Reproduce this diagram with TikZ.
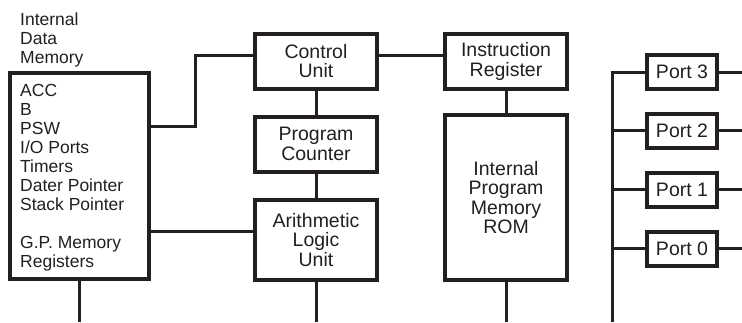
\documentclass[tikz,border=0pt]{standalone}
\usepackage{fontspec}
\setmainfont{Liberation Sans}
\definecolor{ink}{HTML}{231F20}
\begin{document}
\begin{tikzpicture}[x=1pt,y=-1pt,
  blk/.style={draw=ink, line width=4pt, inner sep=0pt, align=center, text=ink,
    font=\fontsize{19.5}{19.5}\selectfont},
  wire/.style={draw=ink, line width=3pt, line join=miter},
  lbl/.style={inner sep=0pt, align=left, anchor=north west, text=ink,
    font=\fontsize{17.5}{19}\selectfont}]
\useasboundingbox (0,0) rectangle (742,322);

% Internal data memory
\node[lbl] (dmlabel) at (20,12.5) {Internal\\Data\\Memory};
\node[blk, minimum width=139pt, minimum height=206pt] (dm) at (79,176) {};
\node[lbl] (dmtext) at (20,84) {ACC\\B\\PSW\\I/O Ports\\Timers\\Dater Pointer\\Stack Pointer\\[19pt]G.P. Memory\\Registers};

% central column
\node[blk, minimum width=121.5pt, minimum height=55.5pt] (cu) at (316,61.25) {Control\\Unit};
\node[blk, minimum width=121.5pt, minimum height=55pt] (pc) at (316,144) {Program\\Counter};
\node[blk, minimum width=121.5pt, minimum height=80.5pt] (alu) at (316,240) {Arithmetic\\Logic\\Unit};

% program memory column
\node[blk, minimum width=122pt, minimum height=55.5pt] (ir) at (506,61.25) {Instruction\\Register};
\node[blk, minimum width=122pt, minimum height=165pt] (rom) at (506,197.5) {Internal\\Program\\Memory\\ROM};

% ports
\node[blk, minimum width=70pt, minimum height=34pt] (p3) at (682,72) {Port 3};
\node[blk, minimum width=70pt, minimum height=34pt] (p2) at (682,130.5) {Port 2};
\node[blk, minimum width=70pt, minimum height=34pt] (p1) at (682,189.5) {Port 1};
\node[blk, minimum width=70pt, minimum height=34pt] (p0) at (682,248.5) {Port 0};

% helper coordinates
\coordinate (a1) at (195,126.5);
\coordinate (a2) at (195,55);
\coordinate (a3) at (0,231.5);
\coordinate (bot) at (0,322);
\coordinate (redge) at (742,0);
\coordinate (bustop) at (612,72);

% connectors
\draw[wire] (a1 -| dm.east) -- (a1) -- (a2) -- (a2 -| cu.west);
\draw[wire] (a2 -| cu.east) -- (a2 -| ir.west);
\draw[wire] (a3 -| dm.east) -- (a3 -| alu.west);
\draw[wire] (cu) -- (pc);
\draw[wire] (pc) -- (alu);
\draw[wire] (ir) -- (rom);
\draw[wire] (dm.south) -- (dm.south |- bot);
\draw[wire] (alu.south) -- (alu.south |- bot);
\draw[wire] (rom.south) -- (rom.south |- bot);

% port bus
\draw[wire] (bustop |- bot) -- (bustop) -- (p3.west);
\draw[wire] (p2.west -| bustop) -- (p2.west);
\draw[wire] (p1.west -| bustop) -- (p1.west);
\draw[wire] (p0.west -| bustop) -- (p0.west);
\draw[wire] (p3.east) -- (p3.east -| redge);
\draw[wire] (p2.east) -- (p2.east -| redge);
\draw[wire] (p1.east) -- (p1.east -| redge);
\draw[wire] (p0.east) -- (p0.east -| redge);
\end{tikzpicture}
\end{document}
